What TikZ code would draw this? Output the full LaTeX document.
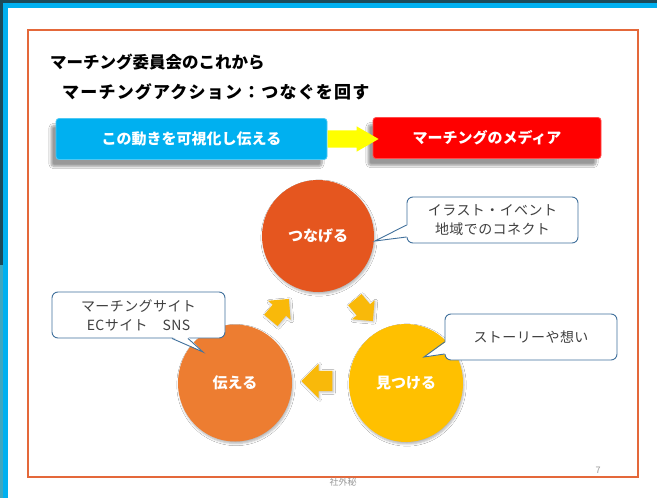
\documentclass[tikz,border=0pt]{standalone}
\usepackage{fontspec}
\setmainfont{Noto Sans CJK JP}
\usetikzlibrary{shapes.geometric,shapes.arrows,shadows.blur,calc}
\definecolor{skyblue}{HTML}{00B0F0}
\definecolor{darkteal}{HTML}{1B4A5A}
\definecolor{lightteal}{HTML}{3FA7BF}
\definecolor{framec}{HTML}{E4683A}
\definecolor{boxred}{HTML}{FF0000}
\definecolor{c1}{HTML}{E5561F}
\definecolor{c2}{HTML}{ED7D31}
\definecolor{c3}{HTML}{FFC000}
\definecolor{arrowc}{HTML}{F9B90A}
\definecolor{notestroke}{HTML}{41719C}
\definecolor{notetext}{HTML}{404040}
\definecolor{arrowyel}{HTML}{FFFF00}
\begin{document}
\begin{tikzpicture}[x=1pt,y=-1pt,
  titletext/.style={anchor=west,inner sep=0pt,font=\fontsize{16.5}{18}\selectfont\bfseries},
  bigbox/.style={rounded corners=3pt,draw=#1!70!white,line width=0.8pt,fill=#1,text=white,
     font=\fontsize{15}{17}\selectfont\bfseries,minimum height=41pt,
     blur shadow={shadow xshift=-5pt,shadow yshift=-7pt,shadow blur steps=8,shadow opacity=40}},
  circ/.style={ellipse,fill=#1,text=white,font=\fontsize{15}{17}\selectfont\bfseries,inner sep=0pt,
     blur shadow={shadow xshift=1pt,shadow yshift=-2pt,shadow blur steps=5,shadow opacity=30}},
  cycarrow/.style={single arrow,fill=arrowc,draw=none,inner xsep=0pt,
     blur shadow={shadow xshift=1pt,shadow yshift=-1pt,shadow blur steps=4,shadow opacity=25}},
  note/.style={rounded corners=6pt,draw=notestroke,line width=0.9pt,fill=white,text=notetext,
     align=center,font=\fontsize{14}{19}\selectfont\addfontfeatures{LetterSpace=3},minimum height=46pt},
  wedge/.style={draw=notestroke,line width=0.9pt,line join=miter},
  small/.style={text=gray!80,font=\fontsize{9}{10}\selectfont,inner sep=0pt}
]
\useasboundingbox (0,0) rectangle (657,498);
% background and slide frame
\fill[white] (0,0) rectangle (657,498);
\fill[darkteal] (0,0) rectangle (657,3);
\fill[darkteal] (0,0) rectangle (3,265);
\fill[lightteal] (0,265) rectangle (3,498);
\fill[skyblue] (3,3) rectangle (657,8);
\fill[skyblue] (3,3) rectangle (8,498);
\draw[framec,line width=2pt] (28,30) rectangle (638,477);

% titles
\node[titletext] (t1) at (50,62) {マーチング委員会のこれから};
\node[titletext,font=\fontsize{17}{19}\selectfont\bfseries\addfontfeatures{LetterSpace=7}] (t2) at (62,92) {マーチングアクション：つなぐを回す};

% top boxes
\node[bigbox=skyblue,minimum width=271pt] (b1) at (191.5,139) {この動きを可視化し伝える};
\node[bigbox=boxred,minimum width=228pt] (b2) at (487,138) {マーチングのメディア};
\node[single arrow,fill=arrowyel,draw=none,inner xsep=0pt,inner ysep=8.5pt,
      single arrow head extend=4pt,single arrow tip angle=60,minimum height=51pt,
      anchor=tail] (ya) at (b1.east) {};

% cycle circles
\node[circ=c1,minimum width=112pt,minimum height=112pt] (tsunageru) at (318,236) {つなげる};
\node[circ=c2,minimum width=114pt,minimum height=117pt] (tsutaeru) at (235,383) {伝える};
\node[circ=c3,minimum width=114pt,minimum height=118pt] (mitsukeru) at (406,383) {見つける};

% cycle arrows
\node[cycarrow,inner ysep=8.5pt,single arrow head extend=6pt,minimum height=28pt,rotate=50] (a1) at (277,313) {};
\node[cycarrow,inner ysep=8.5pt,single arrow head extend=6pt,minimum height=28pt,rotate=-50] (a2) at (361,307) {};
\node[cycarrow,inner ysep=10pt,single arrow head extend=7pt,minimum height=31pt,rotate=180] (a3) at (322,381) {};

% callouts
\node[note,minimum width=171pt] (n1) at (492.5,220) {イラスト・イベント\\地域でのコネクト};
\coordinate (p1) at (375,241);
\fill[white] ($(n1.west)+(1.5,5)$) -- (p1) -- ($(n1.west)+(1.5,17)$) -- cycle;
\draw[wedge] ($(n1.west)+(0,5)$) -- (p1) -- ($(n1.west)+(0,17)$);

\node[note,minimum width=173pt] (n2) at (138.5,315) {マーチングサイト\\ECサイト　SNS};
\coordinate (p2) at (203,352);
\fill[white] ($(n2.south)+(33.5,-1.5)$) -- (p2) -- ($(n2.south)+(49.5,-1.5)$) -- cycle;
\draw[wedge] ($(n2.south)+(33.5,0)$) -- (p2) -- ($(n2.south)+(49.5,0)$);

\node[note,minimum width=172pt] (n3) at (531,337) {ストーリーや想い};
\coordinate (p3) at (424,357);
\fill[white] ($(n3.west)+(1.5,5)$) -- (p3) -- ($(n3.west)+(1.5,17)$) -- cycle;
\draw[wedge] ($(n3.west)+(0,5)$) -- (p3) -- ($(n3.west)+(0,17)$);

% footer
\node[small] (footer) at (343,482) {社外秘};
\node[small] (pageno) at (598,470) {7};
\end{tikzpicture}
\end{document}
